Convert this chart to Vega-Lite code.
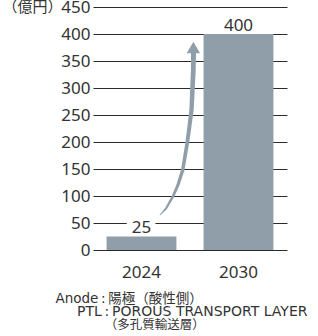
{
  "$schema": "https://vega.github.io/schema/vega-lite/v6.json",
  "width": 194,
  "height": 243,
  "autosize": "none",
  "padding": {"left": 93, "top": 7, "right": 31, "bottom": 86},
  "config": {"view": {"stroke": null}},
  "title": {
    "text": "PTL\u2009:\u2009POROUS TRANSPORT LAYER",
    "subtitle": "\u200b\u00a0\u00a0\u00a0\u00a0\u00a0\u00a0\u00a0（多孔質輸送層）",
    "orient": "bottom",
    "anchor": "start",
    "frame": "group",
    "align": "left",
    "baseline": "top",
    "font": "DejaVu Sans, Noto Sans CJK JP",
    "fontSize": 14,
    "fontWeight": "normal",
    "color": "#333",
    "subtitleFont": "DejaVu Sans, Noto Sans CJK JP",
    "subtitleFontSize": 12.5,
    "subtitleColor": "#333",
    "subtitlePadding": 0,
    "dx": -16,
    "offset": 0
  },
  "resolve": {"scale": {"x": "independent"}},
  "encoding": {
    "y": {
      "field": "value", "type": "quantitative",
      "scale": {"domain": [0, 450], "nice": false},
      "axis": {
        "values": [0, 50, 100, 150, 200, 250, 300, 350, 400, 450],
        "labelFont": "Noto Sans", "labelFontSize": 17, "labelColor": "#333",
        "labelPadding": 3, "ticks": false, "domain": false,
        "grid": true, "gridColor": "#2a2a2a", "gridWidth": 1, "gridOpacity": 1,
        "title": "（億円）", "titleAngle": 0, "titleAlign": "right", "titleBaseline": "middle",
        "titleX": -31, "titleY": -1, "titleFont": "Noto Sans CJK JP", "titleFontSize": 15,
        "titleFontWeight": "normal", "titleColor": "#333"
      }
    }
  },
  "layer": [
    {
      "data": {"values": [{"year": "2024", "value": 25}, {"year": "2030", "value": 400}]},
      "encoding": {
        "x": {
          "field": "year", "type": "nominal",
          "scale": {"paddingInner": 0.28, "paddingOuter": 0.14},
          "axis": {
            "labelFont": "Noto Sans", "labelFontSize": 17, "labelColor": "#333",
            "labelAngle": 0, "labelPadding": 14, "ticks": false, "domain": false,
            "title": "Anode\u2009:\u2009陽極（酸性側）",
            "titleFont": "DejaVu Sans, Noto Sans CJK JP", "titleFontSize": 13.5,
            "titleFontWeight": "normal", "titleColor": "#333",
            "titleAlign": "left", "titleAnchor": "start", "titleBaseline": "middle",
            "titleX": -38, "titleY": 48
          }
        }
      },
      "layer": [
        {
          "mark": {"type": "text", "font": "Noto Sans", "fontSize": 17, "baseline": "alphabetic", "dy": -3.5,
                   "color": "white", "stroke": "white", "strokeWidth": 12, "strokeJoin": "round"},
          "encoding": {"text": {"field": "value", "type": "quantitative"}}
        },
        {"mark": {"type": "bar", "color": "#8f9ea8"}},
        {
          "mark": {"type": "text", "font": "Noto Sans", "fontSize": 17, "baseline": "alphabetic", "dy": -3.5, "color": "#333"},
          "encoding": {"text": {"field": "value", "type": "quantitative"}}
        }
      ]
    },
    {
      "encoding": {
        "x": {"field": "u", "type": "quantitative", "scale": {"domain": [0, 2], "nice": false, "zero": false}, "axis": null}
      },
      "layer": [
        {
          "data": {"values": [
            {"u": 0.691, "value": 64.8, "t": 0},
            {"u": 0.753, "value": 76.9, "t": 1},
            {"u": 0.823, "value": 98.7, "t": 2},
            {"u": 0.876, "value": 120.4, "t": 3},
            {"u": 0.925, "value": 148.1, "t": 4},
            {"u": 0.971, "value": 197.6, "t": 5},
            {"u": 0.996, "value": 231.5, "t": 6},
            {"u": 1.016, "value": 259.3, "t": 7},
            {"u": 1.025, "value": 296.3, "t": 8},
            {"u": 1.034, "value": 333.3, "t": 9},
            {"u": 1.036, "value": 364.8, "t": 10}
          ]},
          "mark": {"type": "trail", "color": "#8f9ea8", "opacity": 1},
          "encoding": {
            "order": {"field": "t", "type": "quantitative"},
            "size": {"field": "t", "type": "quantitative", "scale": {"type": "sqrt", "domain": [0, 10], "range": [0.8, 5], "zero": false}, "legend": null}
          }
        },
        {
          "data": {"values": [{"u": 1.035, "value": 375}]},
          "mark": {"type": "point", "shape": "triangle-up", "filled": true, "size": 177, "color": "#8f9ea8", "opacity": 1, "strokeWidth": 0}
        }
      ]
    }
  ]
}
